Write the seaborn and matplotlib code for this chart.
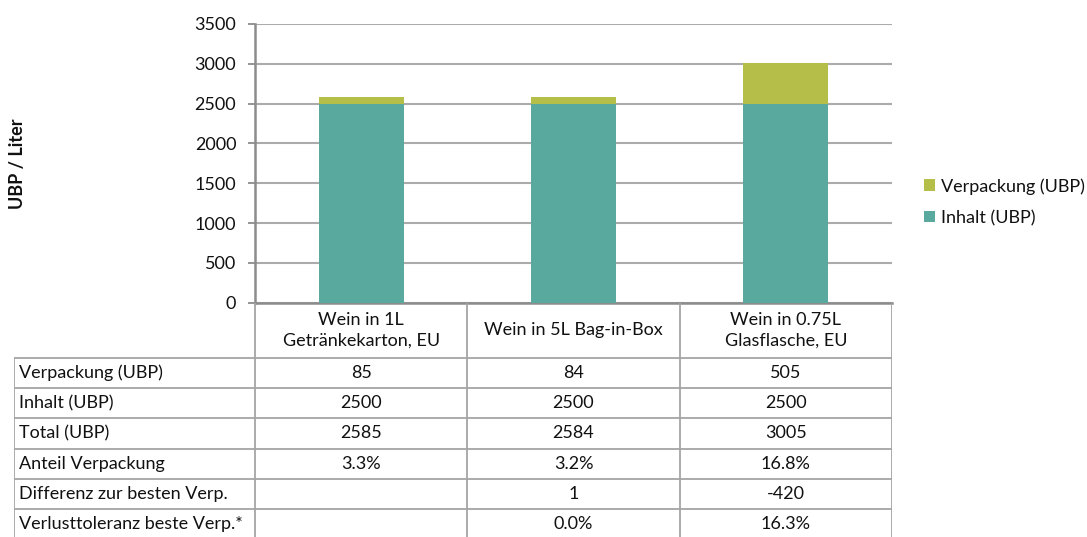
import matplotlib
matplotlib.use("Agg")
import matplotlib.pyplot as plt
from matplotlib.patches import Patch
import seaborn as sns

# --- data -------------------------------------------------------------
categories = ["Wein in 1L\nGetränkekarton, EU",
              "Wein in 5L Bag-in-Box",
              "Wein in 0.75L\nGlasflasche, EU"]
verpackung = [85, 84, 505]
inhalt = [2500, 2500, 2500]
total = [2585, 2584, 3005]
anteil = ["3.3%", "3.2%", "16.8%"]
differenz = ["", "1", "-420"]
verlusttoleranz = ["", "0.0%", "16.3%"]

row_labels = ["Verpackung (UBP)", "Inhalt (UBP)", "Total (UBP)",
              "Anteil Verpackung", "Differenz zur besten Verp.",
              "Verlusttoleranz beste Verp.*"]
series_labels = ["Verpackung (UBP)", "Inhalt (UBP)"]
y_ticks = [0, 500, 1000, 1500, 2000, 2500, 3000, 3500]

# --- style ------------------------------------------------------------
sns.set_style("white")
plt.rcParams["font.family"] = ["Lato", "DejaVu Sans"]
FS = 13
C_PACK = "#B4BE48"
C_CONT = "#5AA99E"
C_GRID = "#ABABAB"
C_AXIS = "#8C8C8C"
C_TABLE = "#A5A5A5"
TXT = "#111111"

W, H = 1087, 537
fig = plt.figure(figsize=(W / 100, H / 100), dpi=100)

# plot area in pixel coordinates
X0, X1 = 255, 892
Y_TOP, Y_ZERO = 24, 302.7
ax = fig.add_axes([X0 / W, (H - Y_ZERO) / H, (X1 - X0) / W, (Y_ZERO - Y_TOP) / H])

# stacked bars: total (packaging on top) then content drawn over it
sns.barplot(x=categories, y=total, color=C_PACK, width=0.4, saturation=1,
            linewidth=0, ax=ax, zorder=2)
sns.barplot(x=categories, y=inhalt, color=C_CONT, width=0.4, saturation=1,
            linewidth=0, ax=ax, zorder=3)

ax.set_xlim(-0.5, 2.5)
ax.set_ylim(0, 3500)
ax.set_yticks(y_ticks)
ax.set_yticklabels([str(t) for t in y_ticks], fontsize=FS, color=TXT)
ax.set_xticks([])
ax.set_xlabel("")
ax.set_ylabel("")
ax.yaxis.grid(True, color=C_GRID, linewidth=1.5)
ax.set_axisbelow(True)
for side in ("top", "right"):
    ax.spines[side].set_visible(False)
for side in ("left", "bottom"):
    ax.spines[side].set_color(C_AXIS)
    ax.spines[side].set_linewidth(1.8)
ax.tick_params(axis="y", direction="out", length=5, width=1.3,
               color=C_AXIS, pad=8.5, left=True)

fig.text(18 / W, 1 - (Y_TOP + Y_ZERO) / 2 / H, "UBP / Liter", rotation=90,
         ha="center", va="center", fontsize=FS, fontweight="bold", color=TXT)

# --- data table below the axis ---------------------------------------
TAB_LEFT = 14
row_h = 30.3
hdr_h = 55.0
n_rows = len(row_labels)
tab_bottom_px = Y_ZERO + hdr_h + n_rows * row_h
col_w = (X1 - X0) / 3
x_min = -0.5 - (X0 - TAB_LEFT) / col_w
hdr = hdr_h / row_h
y_max = hdr + n_rows

tab = fig.add_axes([TAB_LEFT / W, (H - tab_bottom_px) / H,
                    (X1 - TAB_LEFT) / W, (tab_bottom_px - Y_ZERO) / H])
tab.set_xlim(x_min, 2.5)
tab.set_ylim(y_max, 0)
tab.axis("off")

lw = 1.3
for i in range(n_rows + 1):
    tab.plot([x_min, 2.5], [hdr + i, hdr + i], color=C_TABLE, lw=lw)
tab.plot([x_min, x_min], [hdr, y_max], color=C_TABLE, lw=lw)
for xb in (-0.5, 0.5, 1.5, 2.5):
    tab.plot([xb, xb], [0, y_max], color=C_TABLE, lw=lw)

for j, cat in enumerate(categories):
    tab.text(j, hdr / 2, cat, ha="center", va="center", fontsize=FS,
             color=TXT, linespacing=1.3)

rows = [[str(v) for v in verpackung],
        [str(v) for v in inhalt],
        [str(v) for v in total],
        anteil, differenz, verlusttoleranz]
for i, (lab, vals) in enumerate(zip(row_labels, rows)):
    yc = hdr + i + 0.5
    tab.text(x_min + 5 / col_w, yc, lab, ha="left", va="center",
             fontsize=FS, color=TXT)
    for j, v in enumerate(vals):
        tab.text(j, yc, v, ha="center", va="center", fontsize=FS, color=TXT)

# --- legend -----------------------------------------------------------
handles = [Patch(facecolor=C_PACK, edgecolor="none"),
           Patch(facecolor=C_CONT, edgecolor="none")]
fig.legend(handles, series_labels, loc="upper left",
           bbox_to_anchor=(924 / W, 1 - 178 / H), frameon=False,
           fontsize=FS, handlelength=0.6, handleheight=0.6,
           handletextpad=0.35, labelspacing=0.85, borderpad=0,
           borderaxespad=0, labelcolor=TXT)

fig.savefig("out.png", dpi=100)
